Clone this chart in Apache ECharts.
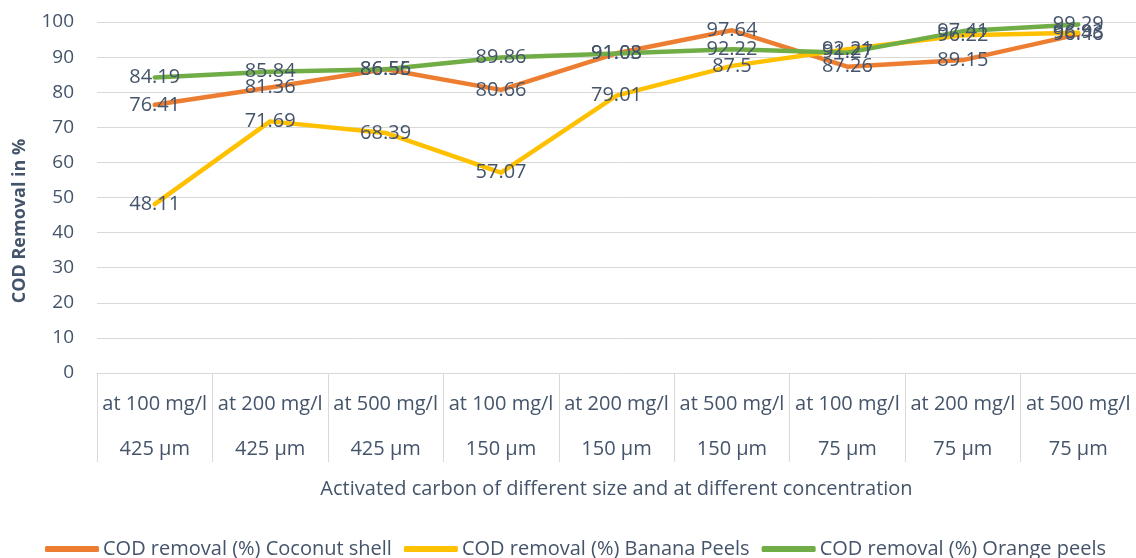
<!DOCTYPE html>
<html>
<head>
<meta charset="utf-8">
<script src="https://cdn.jsdelivr.net/npm/echarts@6/dist/echarts.min.js"></script>
<style>
  html, body { margin: 0; padding: 0; background: #fff; }
  #chart { width: 1136px; height: 558px; }
</style>
</head>
<body>
<div id="chart"></div>
<script>
// Adsorbent dose (top line) and particle size (bottom line) for each point
const concentrations = ['at 100 mg/l', 'at 200 mg/l', 'at 500 mg/l', 'at 100 mg/l', 'at 200 mg/l', 'at 500 mg/l', 'at 100 mg/l', 'at 200 mg/l', 'at 500 mg/l'];
const sizes = ['425 µm', '425 µm', '425 µm', '150 µm', '150 µm', '150 µm', '75 µm', '75 µm', '75 µm'];

// COD removal (%) per adsorbent
const coconutShell = [76.41, 81.36, 86.55, 80.66, 91.08, 97.64, 87.26, 89.15, 96.46];
const bananaPeels = [48.11, 71.69, 68.39, 57.07, 79.01, 87.5, 92.21, 96.22, 96.93];
const orangePeels = [84.19, 85.84, 86.56, 89.86, 91.03, 92.22, 91.27, 97.41, 99.29];

const yTicks = { min: 0, max: 100, interval: 10 };

const seriesNames = ['COD removal (%) Coconut shell', 'COD removal (%) Banana Peels', 'COD removal (%) Orange peels'];
const seriesColors = ['#ED7D31', '#FFC000', '#70AD47'];

const categories = concentrations.map((c, i) => c + '\n' + sizes[i]);

const textColor = '#44546A';
const fontFamily = '"Open Sans", sans-serif';

function lineSeries(name, data, color) {
  return {
    name: name,
    type: 'line',
    data: data,
    symbol: 'circle',
    symbolSize: 0.1,
    showSymbol: true,
    lineStyle: { color: color, width: 4.5, cap: 'round', join: 'round' },
    itemStyle: { color: color },
    label: {
      show: true,
      position: 'inside',
      color: textColor,
      fontSize: 20,
      fontFamily: fontFamily,
      formatter: p => String(p.value)
    },
    labelLayout: { hideOverlap: false },
    z: 2
  };
}

const chart = echarts.init(document.getElementById('chart'), null, { renderer: 'canvas' });
chart.setOption({
  animation: false,
  textStyle: { fontFamily: fontFamily },
  grid: { left: 97, right: 0, top: 22, bottom: 185, containLabel: false, outerBoundsMode: 'none' },
  // vertical value-axis title
  graphic: [{
    type: 'text',
    x: 20,
    y: 221,
    rotation: Math.PI / 2,
    style: {
      text: 'COD Removal in %',
      fill: textColor,
      font: 'bold 18px "Open Sans", sans-serif',
      textAlign: 'center',
      textVerticalAlign: 'middle'
    }
  }],
  xAxis: {
    type: 'category',
    data: categories,
    boundaryGap: true,
    name: 'Activated carbon of different size and at different concentration',
    nameLocation: 'middle',
    nameGap: 106,
    nameTextStyle: { color: textColor, fontSize: 20, fontFamily: fontFamily },
    axisLine: { show: true, lineStyle: { color: '#D9D9D9', width: 1 } },
    axisTick: { show: true, length: 89, alignWithLabel: false, lineStyle: { color: '#D9D9D9', width: 1 } },
    axisLabel: {
      color: textColor,
      fontSize: 20,
      lineHeight: 45,
      margin: 9,
      interval: 0,
      fontFamily: fontFamily
    }
  },
  yAxis: {
    type: 'value',
    min: yTicks.min,
    max: yTicks.max,
    interval: yTicks.interval,
    axisLine: { show: false },
    axisTick: { show: false },
    axisLabel: { color: textColor, fontSize: 19, margin: 23, fontFamily: fontFamily },
    splitLine: { show: true, lineStyle: { color: '#D9D9D9', width: 1 } }
  },
  legend: {
    left: 40,
    bottom: -6,
    icon: 'roundRect',
    itemWidth: 54,
    itemHeight: 6,
    itemGap: 12,
    textStyle: { color: textColor, fontSize: 20, fontFamily: fontFamily, padding: [0, 0, 0, -1] },
    data: seriesNames.map((n, i) => ({ name: n, itemStyle: { color: seriesColors[i] } }))
  },
  series: seriesNames.map((n, i) => lineSeries(n, [coconutShell, bananaPeels, orangePeels][i], seriesColors[i]))
});
</script>
</body>
</html>
